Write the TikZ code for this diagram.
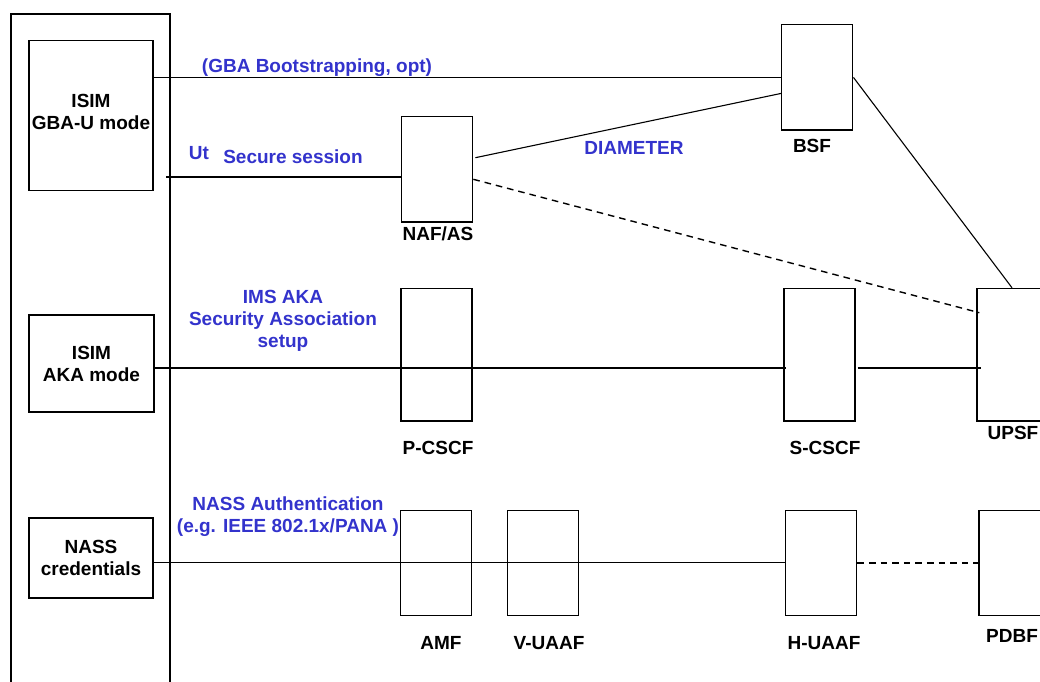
\documentclass[tikz,border=0pt]{standalone}
\usepackage{fontspec}
\setmainfont{Liberation Sans}
\usepackage{tikz}
\usetikzlibrary{positioning,calc}
\definecolor{linkblue}{RGB}{51, 51, 204}

\begin{document}
\begin{tikzpicture}[x=0.5pt, y=-0.5pt,
    every node/.style={font=\bfseries\fontsize{9.5}{11}\selectfont, inner sep=0pt},
    box/.style={rectangle, draw, line width=0.65pt, minimum width=35.5pt},
    shortbox/.style={box, minimum height=52.7pt},
    tallbox/.style={box, minimum height=66.3pt},
    simbox/.style={box, minimum width=62pt, align=center},
    linklabel/.style={text=linkblue, align=center},
    conn/.style={line width=0.55pt},
    dashconn/.style={conn, line width=0.7pt, dash pattern=on 3.3pt off 2.5pt}
]
\useasboundingbox (0,0) rectangle (1040,681);
\clip (0,0) rectangle (1040,681);

% UE frame
\draw[line width=0.65pt] (11,700) -- (11,14) -- (170,14) -- (170,700);

% ISIM / NASS credentials
\node[simbox, minimum height=75pt] (isimgba) at (91,115.5) {ISIM\\GBA-U mode\\[-7pt]};
\node[simbox, minimum width=62.5pt, minimum height=48.5pt] (isimaka) at (91.5,363.5) {ISIM\\AKA mode};
\node[simbox, minimum height=40pt] (nass) at (91,558) {NASS\\credentials};

% Network elements
\node[shortbox] (naf) at (437.2,169.3) {};
\node[shortbox] (bsf) at (817.3,77.4) {};
\node[tallbox] (pcscf) at (436.4,354.7) {};
\node[tallbox] (scscf) at (819.4,354.7) {};
\node[tallbox, minimum width=36pt] (upsf) at (1013,354.7) {};
\node[shortbox] (amf) at (436.2,562.9) {};
\node[shortbox] (vuaaf) at (542.8,562.9) {};
\node[shortbox] (huaaf) at (821.2,562.9) {};
\node[shortbox] (pdbf) at (1014.5,562.9) {};

% Element names
\node (nafname) at (438,234) {NAF/AS};
\node (bsfname) at (812,146) {BSF};
\node (pcscfname) at (438,448) {P-CSCF};
\node (scscfname) at (825,448) {S-CSCF};
\node (upsfname) at (1013,433) {UPSF};
\node (amfname) at (441,643) {AMF};
\node (vuaafname) at (549,643) {V-UAAF};
\node (huaafname) at (824,643) {H-UAAF};
\node (pdbfname) at (1012,636) {PDBF};

% Links
\coordinate (utstart) at (166,177);
\coordinate (imsline) at (0,368);
\draw[conn] (bsf.west -| isimgba.east) -- (bsf.west);
\draw[conn] (utstart) -- (naf.west |- utstart);
\draw[conn] ($(naf.east)+(2,-11.6)$) -- ($(bsf.west)+(0,16)$);
\draw[dashconn] ($(naf.east)+(0,10)$) -- ($(upsf.west)+(3,-42)$);
\draw[conn] (bsf.east) -- ($(upsf.north)+(-1,0)$);
\draw[conn] (isimaka.east |- imsline) -- ($(scscf.west |- imsline)+(3,0)$);
\draw[conn] ($(scscf.east |- imsline)+(2,0)$) -- ($(upsf.west |- imsline)+(5,0)$);
\draw[conn] (nass.east |- huaaf.west) -- (huaaf.west);
\draw[dashconn] (huaaf.east) -- (pdbf.west);

% Link labels
\node[linklabel] (gbalabel) at (317,68) {(GBA Bootstrapping, opt)};
\node[linklabel] (utlabel) at (199,153) {Ut};
\node[linklabel] (seclabel) at (293,157) {Secure session};
\node[linklabel] (diamlabel) at (634,148) {DIAMETER};
\node[linklabel] (imslabel) at (283,321) {IMS AKA\\Security Association\\setup};
\node[linklabel] (nasslabel) at (288,517) {NASS Authentication\\(e.g. IEEE 802.1x/PANA )};

\end{tikzpicture}
\end{document}
